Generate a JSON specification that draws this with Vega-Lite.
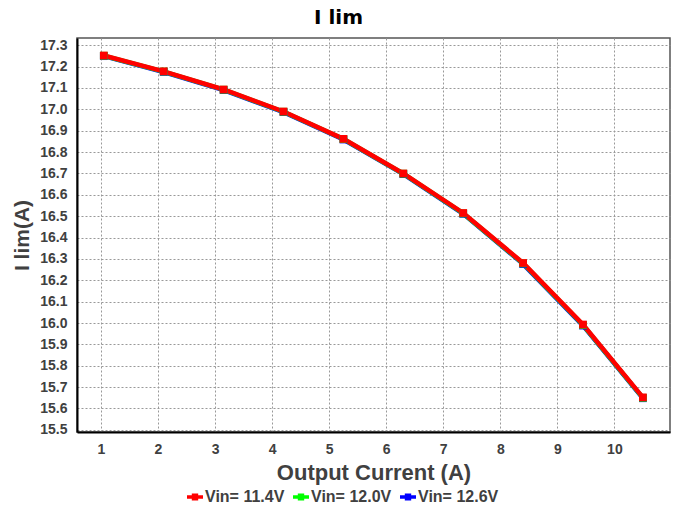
{
  "$schema": "https://vega.github.io/schema/vega-lite/v6.json",
  "autosize": {"type": "none"},
  "width": 593,
  "height": 394,
  "padding": {"left": 77, "top": 38, "right": 6, "bottom": 80},
  "background": "white",
  "title": {
    "text": "I lim",
    "font": "DejaVu Sans",
    "fontSize": 20,
    "fontWeight": "bold",
    "color": "#000000",
    "anchor": "middle",
    "dx": -35,
    "offset": 10
  },
  "config": {
    "view": {"stroke": "#555555", "strokeWidth": 1.5},
    "axis": {
      "labelFont": "Liberation Sans",
      "labelFontWeight": "bold",
      "labelFontSize": 14,
      "labelColor": "#404040",
      "titleFont": "Liberation Sans",
      "titleFontWeight": "bold",
      "titleFontSize": 21,
      "titleColor": "#404040",
      "ticks": false,
      "grid": true,
      "gridColor": "#999999",
      "gridDash": [2, 2],
      "gridWidth": 1,
      "domainColor": "#000000",
      "domainWidth": 2
    },
    "legend": {
      "title": null,
      "orient": "none",
      "direction": "horizontal",
      "legendX": 110,
      "legendY": 451,
      "symbolType": "M-1,-0.22H1V0.22H-1Z M-0.4,-0.45H0.4V0.45H-0.4Z",
      "symbolSize": 256,
      "symbolStrokeWidth": 0,
      "symbolOpacity": 1,
      "labelFont": "Liberation Sans",
      "labelFontWeight": "bold",
      "labelFontSize": 16,
      "labelColor": "#404040",
      "labelOffset": 2,
      "columnPadding": 8
    }
  },
  "data": {
    "values": [
      {"s": "Vin= 12.6V", "x": 1.05, "y": 17.249},
      {"s": "Vin= 12.6V", "x": 2.1, "y": 17.175},
      {"s": "Vin= 12.6V", "x": 3.15, "y": 17.090},
      {"s": "Vin= 12.6V", "x": 4.2, "y": 16.987},
      {"s": "Vin= 12.6V", "x": 5.25, "y": 16.859},
      {"s": "Vin= 12.6V", "x": 6.3, "y": 16.697},
      {"s": "Vin= 12.6V", "x": 7.35, "y": 16.511},
      {"s": "Vin= 12.6V", "x": 8.4, "y": 16.276},
      {"s": "Vin= 12.6V", "x": 9.45, "y": 15.988},
      {"s": "Vin= 12.6V", "x": 10.5, "y": 15.648},
      {"s": "Vin= 12.0V", "x": 1.05, "y": 17.251},
      {"s": "Vin= 12.0V", "x": 2.1, "y": 17.177},
      {"s": "Vin= 12.0V", "x": 3.15, "y": 17.092},
      {"s": "Vin= 12.0V", "x": 4.2, "y": 16.989},
      {"s": "Vin= 12.0V", "x": 5.25, "y": 16.861},
      {"s": "Vin= 12.0V", "x": 6.3, "y": 16.699},
      {"s": "Vin= 12.0V", "x": 7.35, "y": 16.513},
      {"s": "Vin= 12.0V", "x": 8.4, "y": 16.279},
      {"s": "Vin= 12.0V", "x": 9.45, "y": 15.991},
      {"s": "Vin= 12.0V", "x": 10.5, "y": 15.650},
      {"s": "Vin= 11.4V", "x": 1.05, "y": 17.252},
      {"s": "Vin= 11.4V", "x": 2.1, "y": 17.178},
      {"s": "Vin= 11.4V", "x": 3.15, "y": 17.093},
      {"s": "Vin= 11.4V", "x": 4.2, "y": 16.990},
      {"s": "Vin= 11.4V", "x": 5.25, "y": 16.862},
      {"s": "Vin= 11.4V", "x": 6.3, "y": 16.700},
      {"s": "Vin= 11.4V", "x": 7.35, "y": 16.515},
      {"s": "Vin= 11.4V", "x": 8.4, "y": 16.281},
      {"s": "Vin= 11.4V", "x": 9.45, "y": 15.993},
      {"s": "Vin= 11.4V", "x": 10.5, "y": 15.652}
    ]
  },
  "encoding": {
    "x": {
      "field": "x",
      "type": "quantitative",
      "scale": {"domain": [0.58, 10.975], "nice": false, "zero": false},
      "axis": {
        "title": "Output Current (A)",
        "values": [1, 2, 3, 4, 5, 6, 7, 8, 9, 10],
        "format": "d",
        "labelPadding": 10,
        "titlePadding": 6,
        "titleFontSize": 22
      }
    },
    "y": {
      "field": "y",
      "type": "quantitative",
      "scale": {"domain": [15.49, 17.334], "nice": false, "zero": false},
      "axis": {
        "title": "I lim(A)",
        "values": [15.5, 15.6, 15.7, 15.8, 15.9, 16.0, 16.1, 16.2, 16.3, 16.4, 16.5, 16.6, 16.7, 16.8, 16.9, 17.0, 17.1, 17.2, 17.3],
        "format": ".1f",
        "labelPadding": 10,
        "titlePadding": 7
      }
    }
  },
  "layer": [
    {
      "mark": {"type": "line", "strokeWidth": 4.5},
      "encoding": {
        "stroke": {
          "field": "s",
          "type": "nominal",
          "scale": {"domain": ["Vin= 11.4V", "Vin= 12.0V", "Vin= 12.6V"], "range": ["#ff0000", "#00ff00", "#0000ff"]}
        }
      }
    },
    {
      "mark": {"type": "point", "shape": "square", "filled": true, "size": 60, "opacity": 1},
      "encoding": {
        "fill": {
          "field": "s",
          "type": "nominal",
          "scale": {"domain": ["Vin= 11.4V", "Vin= 12.0V", "Vin= 12.6V"], "range": ["#ff0000", "#00ff00", "#0000ff"]}
        }
      }
    }
  ]
}
